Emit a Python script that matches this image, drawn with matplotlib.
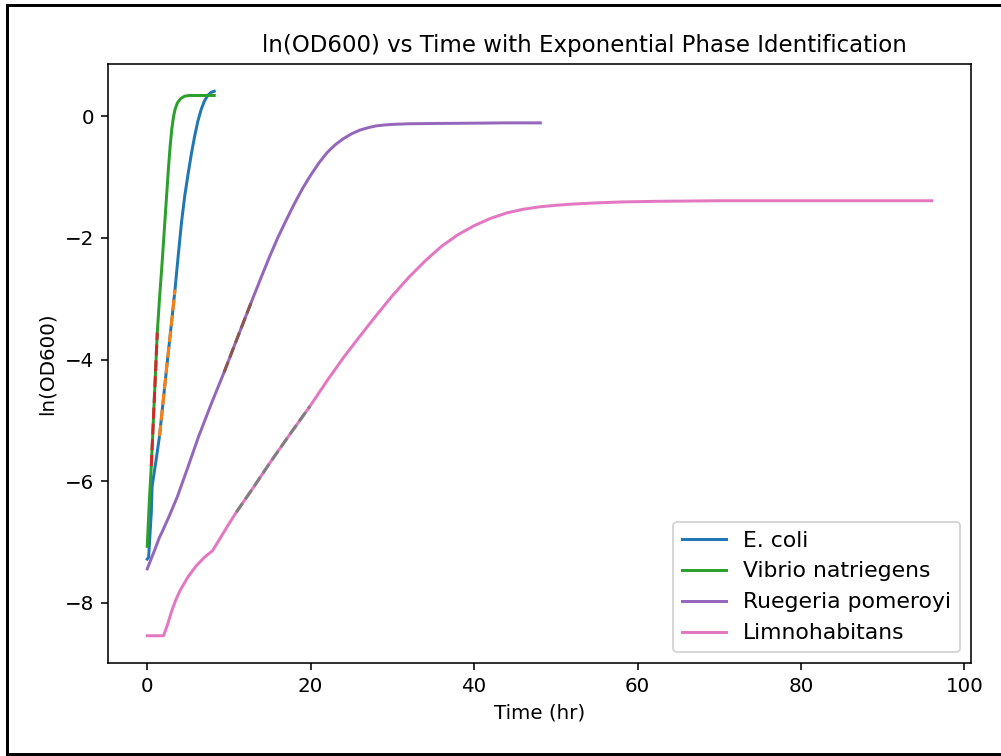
import matplotlib
matplotlib.use('Agg')
import matplotlib.pyplot as plt
import numpy as np
from matplotlib.lines import Line2D

# growth curves: time (hr) and ln(OD600)
ecoli_t = [0, 0.17, 0.25, 0.5, 0.6, 1.1, 1.5, 2.0, 2.5, 3.0, 3.4, 3.8, 4.2, 4.6, 5.0, 5.4, 5.8, 6.2, 6.6, 7.0, 7.4, 7.8, 8.2]
ecoli_y = [-7.28, -7.25, -7.07, -6.51, -6.08, -5.64, -5.26, -4.62, -3.98, -3.36, -2.85, -2.28, -1.74, -1.3, -0.95, -0.62, -0.33, -0.08, 0.11, 0.25, 0.34, 0.39, 0.41]

vibrio_t = [0, 0.25, 0.5, 0.75, 1.0, 1.23, 1.5, 1.8, 2.1, 2.4, 2.6, 2.8, 3.0, 3.2, 3.4, 3.7, 4.1, 4.6, 5.2, 6.5, 8.2]
vibrio_y = [-7.07, -6.35, -5.75, -5.0, -4.25, -3.56, -3.0, -2.45, -1.85, -1.25, -0.85, -0.5, -0.22, -0.02, 0.11, 0.22, 0.29, 0.33, 0.34, 0.34, 0.34]

ruegeria_t = [0, 0.5, 1.0, 1.5, 1.8, 2.7, 3.7, 5.0, 6.3, 7.8, 9.4, 11.1, 12.9, 14, 15, 16, 17, 18, 19, 20, 21, 22, 23, 24, 25, 26, 27, 28, 29, 30, 32, 35, 40, 44, 48.1]
ruegeria_y = [-7.44, -7.27, -7.1, -6.92, -6.84, -6.57, -6.25, -5.76, -5.26, -4.74, -4.21, -3.62, -3.0, -2.63, -2.3, -1.99, -1.71, -1.44, -1.19, -0.97, -0.77, -0.6, -0.47, -0.37, -0.29, -0.23, -0.19, -0.16, -0.145, -0.135, -0.125, -0.12, -0.115, -0.11, -0.11]

limno_t = [0, 1.0, 2.0, 2.5, 3.0, 3.5, 4.0, 5.0, 6.0, 7.0, 8.0, 9.0, 10.0, 10.9, 13.0, 15.0, 17.5, 19.9, 22, 24, 26, 28, 30, 32, 34, 36, 38, 40, 42, 44, 46, 48, 50, 52, 55, 58, 62, 70, 80, 96]
limno_y = [-8.54, -8.54, -8.54, -8.35, -8.13, -7.95, -7.8, -7.57, -7.39, -7.25, -7.14, -6.92, -6.7, -6.51, -6.1, -5.7, -5.22, -4.77, -4.35, -3.97, -3.62, -3.28, -2.95, -2.65, -2.38, -2.14, -1.95, -1.8, -1.68, -1.59, -1.53, -1.49, -1.465, -1.445, -1.425, -1.41, -1.4, -1.39, -1.39, -1.39]

species = ['E. coli', 'Vibrio natriegens', 'Ruegeria pomeroyi', 'Limnohabitans']
times = [ecoli_t, vibrio_t, ruegeria_t, limno_t]
values = [ecoli_y, vibrio_y, ruegeria_y, limno_y]
# exponential phase windows (hr)
exp_start = [1.5, 0.5, 9.4, 10.9]
exp_end = [3.4, 1.23, 12.9, 19.9]

fig = plt.figure(figsize=(1001 / 143, 756 / 143), dpi=143)
ax = fig.add_axes([108 / 1001, 1 - 663 / 756, 863 / 1001, 599 / 756])

handles = []
for name, t, y, t0, t1 in zip(species, times, values, exp_start, exp_end):
    t = np.array(t)
    y = np.array(y)
    line, = ax.plot(t, y, label=name)
    handles.append(line)
    mask = (t >= t0) & (t <= t1)
    ax.plot(t[mask], y[mask], '--')

ax.set_title('ln(OD600) vs Time with Exponential Phase Identification', fontsize=11.5, x=0.5516)
ax.set_xlabel('Time (hr)')
ax.set_ylabel('ln(OD600)')
ax.legend(handles=handles, loc='lower right', fontsize=11)

# screenshot frame
fig.add_artist(Line2D([7 / 1001, 7 / 1001], [0.5 / 756, 1 - 5 / 756], color='black', lw=1.5))
fig.add_artist(Line2D([7 / 1001, 1.0], [1 - 5 / 756, 1 - 5 / 756], color='black', lw=1.5))
fig.add_artist(Line2D([7 / 1001, 1.0], [2 / 756, 2 / 756], color='black', lw=1.5))

fig.savefig('out.png', dpi=143)
